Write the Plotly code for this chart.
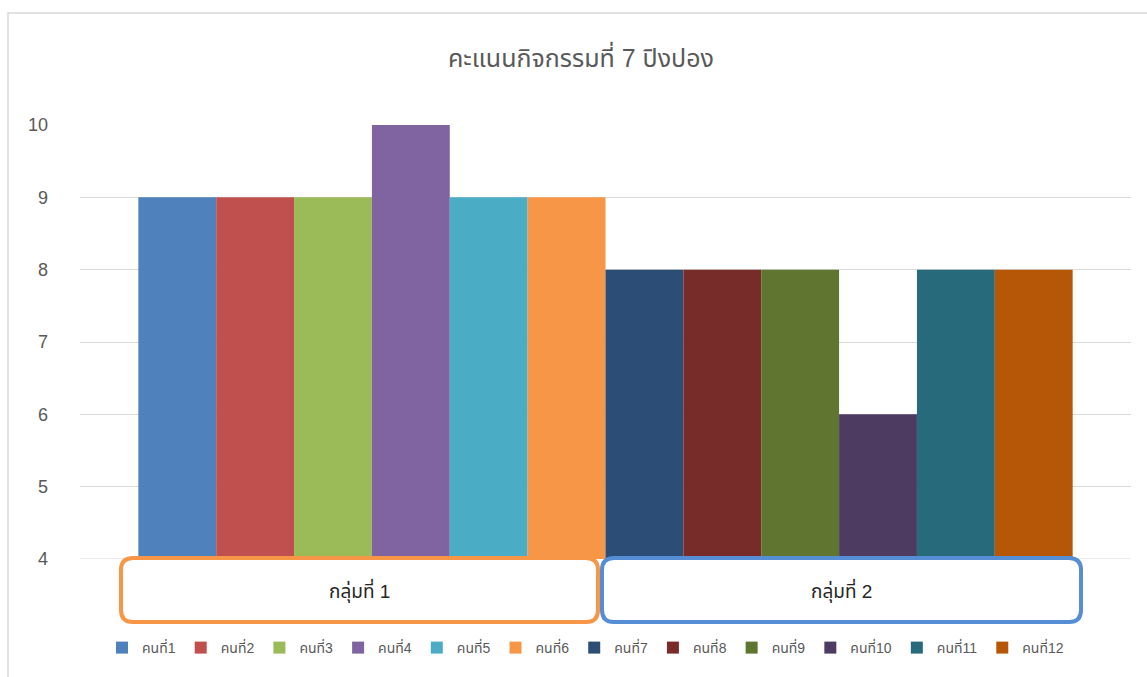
import plotly.graph_objects as go

title = "คะแนนกิจกรรมที่ 7 ปิงปอง"
category = ["กลุ่ม"]
people = ["คนที่1", "คนที่2", "คนที่3", "คนที่4", "คนที่5", "คนที่6",
          "คนที่7", "คนที่8", "คนที่9", "คนที่10", "คนที่11", "คนที่12"]
scores = [9, 9, 9, 10, 9, 9, 8, 8, 8, 6, 8, 8]
colors = ["#4F81BD", "#C0504D", "#9BBB59", "#8064A2", "#4BACC6", "#F79646",
          "#2C4D75", "#772C2A", "#5F7530", "#4D3B62", "#276A7C", "#B65708"]
group_labels = ["กลุ่มที่ 1", "กลุ่มที่ 2"]
group_colors = ["#F79646", "#558ED5"]
y_ticks = [4, 5, 6, 7, 8, 9, 10]

W, H = 1147, 677
ML, MR, MT, MB = 80, 16, 125, 118
PW, PH = W - ML - MR, H - MT - MB

def px(x):
    return (x - ML) / PW

def py(y):
    return (H - MB - y) / PH

FONT = "Liberation Sans, Arial, Noto Sans Thai, sans-serif"

fig = go.Figure()
for name, val, col in zip(people, scores, colors):
    fig.add_trace(go.Bar(x=category, y=[val], name=name, marker_color=col,
                         marker_line_width=0))

def rounded_rect(x0, y0, x1, y1, r):
    X0, X1 = px(x0), px(x1)
    Y0, Y1 = py(y1), py(y0)
    rx, ry = r / PW, r / PH
    return (f"M {X0+rx},{Y1} L {X1-rx},{Y1} Q {X1},{Y1} {X1},{Y1-ry} "
            f"L {X1},{Y0+ry} Q {X1},{Y0} {X1-rx},{Y0} L {X0+rx},{Y0} "
            f"Q {X0},{Y0} {X0},{Y0+ry} L {X0},{Y1-ry} Q {X0},{Y1} {X0+rx},{Y1} Z")

shapes = [
    dict(type="rect", xref="paper", yref="paper", x0=px(8), x1=px(1200),
         y0=py(720), y1=py(13), line=dict(color="#D9D9D9", width=1.5),
         fillcolor="rgba(0,0,0,0)", layer="below"),
    dict(type="line", xref="paper", yref="y", x0=0, x1=1, y0=y_ticks[0],
         y1=y_ticks[0], line=dict(color="#D9D9D9", width=1), layer="below"),
]
boxes = [(121, 558, 598, 622), (602, 558, 1081, 622)]
annotations = []
for (x0, y0, x1, y1), lab, col in zip(boxes, group_labels, group_colors):
    shapes.append(dict(type="path", xref="paper", yref="paper",
                       path=rounded_rect(x0, y0, x1, y1, 12),
                       line=dict(color=col, width=4), fillcolor="white",
                       layer="above"))
    annotations.append(dict(xref="paper", yref="paper", x=px((x0 + x1) / 2),
                            y=py((y0 + y1) / 2), text=lab, showarrow=False,
                            font=dict(size=19, color="#262626", family=FONT),
                            xanchor="center", yanchor="middle"))

fig.update_layout(
    width=W, height=H,
    margin=dict(l=ML, r=MR, t=MT, b=MB),
    paper_bgcolor="white", plot_bgcolor="white",
    barmode="group", bargap=0.111, bargroupgap=0,
    font=dict(family=FONT, color="#595959"),
    title=dict(text=title, x=581 / W, xanchor="center", y=1 - 58 / H,
               yanchor="middle", font=dict(size=25, color="#595959", family=FONT)),
    xaxis=dict(showticklabels=False, showgrid=False, zeroline=False,
               showline=False, ticks=""),
    yaxis=dict(range=[4, 10], tickvals=y_ticks, showgrid=True,
               gridcolor="#D9D9D9", gridwidth=1, zeroline=False, showline=False,
               ticks="", ticklabelstandoff=31,
               tickfont=dict(size=18, color="#595959", family=FONT)),
    legend=dict(orientation="h", x=px(102), xanchor="left", y=py(648),
                yanchor="middle", font=dict(size=14, color="#595959", family=FONT),
                traceorder="normal", itemwidth=30, bgcolor="rgba(0,0,0,0)"),
    shapes=shapes,
    annotations=annotations,
)

fig.write_html("out.html")
